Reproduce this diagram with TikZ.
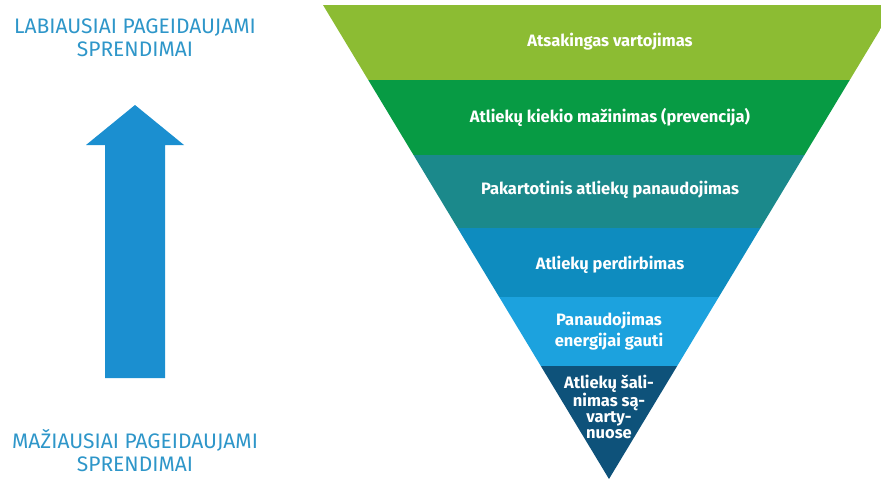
\documentclass[tikz,border=0pt]{standalone}
\usepackage{fontspec}
\setmainfont{Fira Sans}
\definecolor{cA}{HTML}{8CBC33}
\definecolor{cB}{HTML}{079B44}
\definecolor{cC}{HTML}{1B898B}
\definecolor{cD}{HTML}{0E8CBF}
\definecolor{cE}{HTML}{1CA2DE}
\definecolor{cF}{HTML}{0E527A}
\definecolor{arrowblue}{HTML}{1B8FD0}
\definecolor{sidetext}{HTML}{2E96C9}
\tikzset{
  layertext/.style={text=white, font=\fontsize{16.5}{18}\selectfont\bfseries, align=center, inner sep=0pt},
  sidelabel/.style={text=sidetext, font=\fontsize{21}{23}\selectfont, align=center, inner sep=0pt},
}
\begin{document}
\begin{tikzpicture}[x=1pt,y=-1pt]
\useasboundingbox (0,0) rectangle (881,479);
\begin{scope}
  \clip (0,0) rectangle (881,479);
  \clip (323,5) -- (895,5) -- (609,479) -- cycle;
  \fill[cA] (300,5) rectangle (900,80);
  \fill[cB] (300,80) rectangle (900,155);
  \fill[cC] (300,155) rectangle (900,228);
  \fill[cD] (300,228) rectangle (900,297);
  \fill[cE] (300,297) rectangle (900,366);
  \fill[cF] (300,366) rectangle (900,480);
\end{scope}
\node[layertext] (l1) at (610,42) {Atsakingas vartojimas};
\node[layertext] (l2) at (610,117) {Atliekų kiekio mažinimas (prevencija)};
\node[layertext] (l3) at (610,190) {Pakartotinis atliekų panaudojimas};
\node[layertext] (l4) at (610,265) {Atliekų perdirbimas};
\node[layertext, font=\fontsize{16.5}{21.5}\selectfont\bfseries] (l5) at (609,331) {Panaudojimas\\energijai gauti};
\node[layertext, font=\fontsize{16.5}{16}\selectfont\bfseries] (l6) at (609,407) {Atliekų šali-\\nimas są-\\varty-\\nuose};
% arrow
\fill[arrowblue] (105,378) -- (105,145) -- (86,145) -- (135,105) -- (184,145) -- (165,145) -- (165,378) -- cycle;
\node[sidelabel] (top) at (135,38) {LABIAUSIAI PAGEIDAUJAMI\\SPRENDIMAI};
\node[sidelabel] (bot) at (135,451) {MAŽIAUSIAI PAGEIDAUJAMI\\SPRENDIMAI};
\end{tikzpicture}
\end{document}
